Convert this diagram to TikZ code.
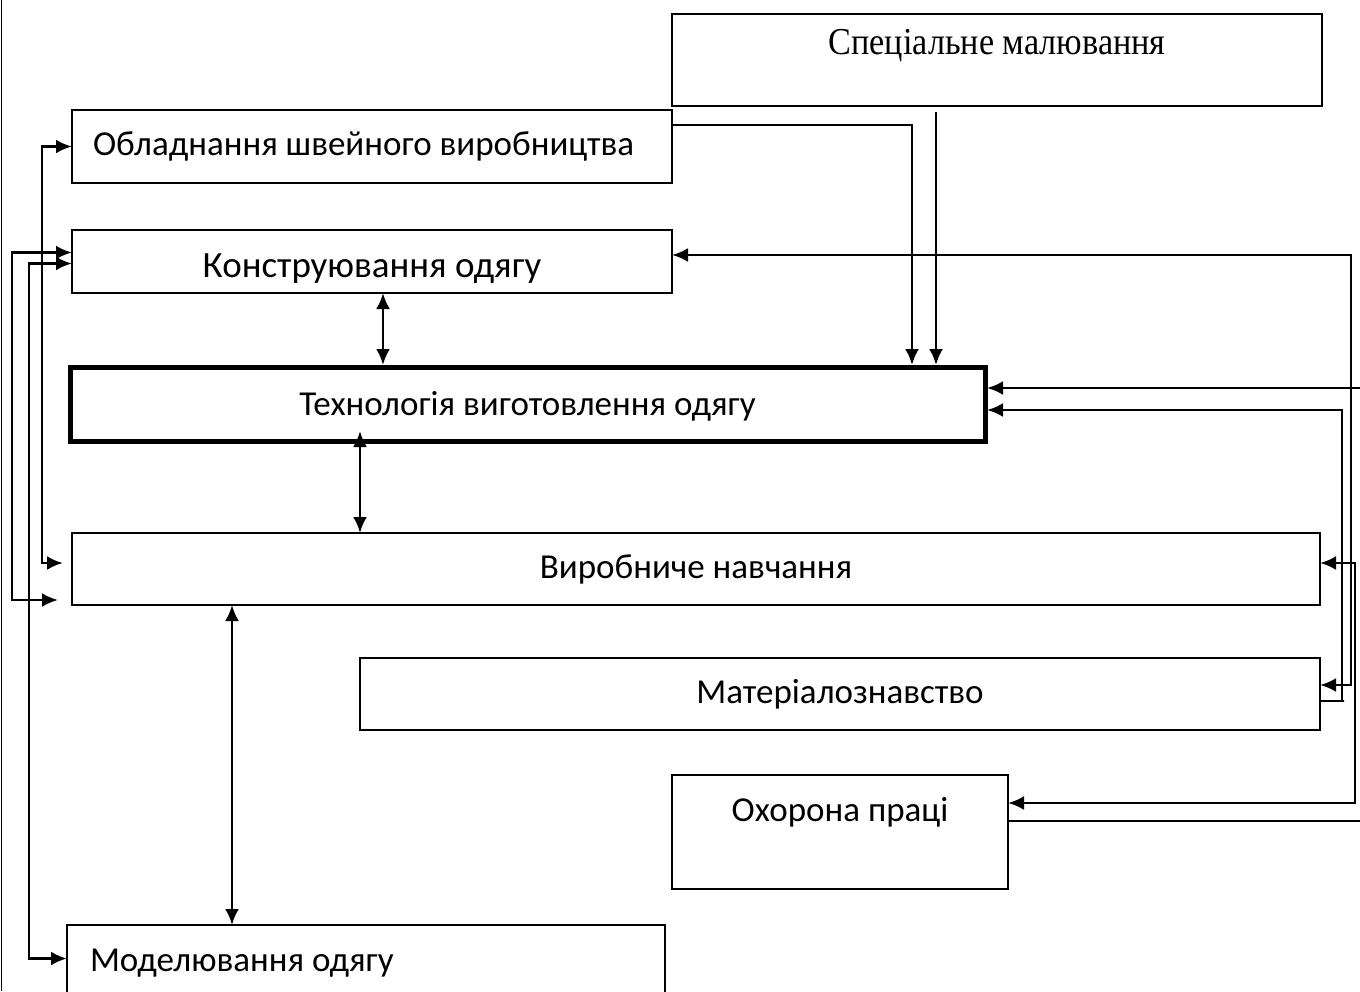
\documentclass[tikz,border=0pt]{standalone}
\usepackage{graphicx}
\usepackage{fontspec}
\setmainfont{Carlito}
\newfontfamily\serifspec{Liberation Serif}
\usetikzlibrary{calc,arrows.meta}

\begin{document}
\begin{tikzpicture}[x=1pt,y=-1pt,
    box/.style={draw, line width=1.5pt, anchor=north west, inner sep=0pt, outer sep=0pt,
        font=\fontsize{35}{40}\selectfont, text height=20pt, text depth=2pt},
    link/.style={line width=2.8pt, {Latex[length=16pt,width=14pt]}-{Latex[length=16pt,width=14pt]}},
    feed/.style={line width=2.8pt, -{Latex[length=16pt,width=14pt]}}]
\useasboundingbox (0,0) rectangle (1360,991);
\draw[line width=1.5pt] (1.5,0) -- (1.5,991);
% boxes
\node[box, minimum width=650pt, minimum height=92pt, text height=25pt, text depth=37pt,
    font=\serifspec\fontsize{38}{42}\selectfont] (spec) at (672,14) {\scalebox{0.9}[1]{Спеціальне малювання}};
\node[box, minimum width=600pt, minimum height=73pt] (obl) at (72,110) {\makebox[558pt][l]{Обладнання швейного виробництва}};
\node[box, minimum width=600pt, minimum height=63pt, text height=32pt, text depth=1pt,
    font=\fontsize{37}{42}\selectfont] (kon) at (72,230) {Конструювання одягу};
\node[box, line width=5pt, minimum width=915pt, minimum height=74pt, text height=24pt] (tech) at (70,367) {Технологія виготовлення одягу};
\node[box, minimum width=1248pt, minimum height=72pt] (vyr) at (72,533) {Виробниче навчання};
\node[box, minimum width=960pt, minimum height=72pt] (mat) at (360,658) {Матеріалознавство};
\node[box, minimum width=336pt, minimum height=114pt, text depth=42pt] (ohor) at (672,775) {Охорона праці};
\node[box, minimum width=598pt, minimum height=75pt] (model) at (67,925) {\makebox[552pt][l]{Моделювання одягу}};
% left side
\draw[link] (obl.west) -- ++(-30,0) |- ($(vyr.west)+(-9,-6)$);
\draw[link] ($(kon.west)+(0,-9)$) -- ++(-60,0) |- ($(vyr.west)+(-14,31)$);
\draw[link] ($(kon.west)+(0,2)$) -- ++(-43,0) |- ($(model.west)+(0,-4)$);
% middle
\draw[link] ($(kon.south)+(11,0)$) -- ($(tech.north)+(-144.5,-2)$);
\draw[link] ($(tech.south)+(-167.5,-10)$) -- ($(vyr.north)+(-336,0)$);
\draw[link] ($(vyr.south)+(-464,0)$) -- ($(model.north)+(-134,0)$);
% top
\draw[feed] ($(obl.north east)+(0,15)$) -| ($(tech.north)+(384.5,-2)$);
\draw[feed] ($(spec.south)+(-61,6)$) -- ($(tech.north)+(408.5,-2)$);
% right side
\draw[link] ($(kon.east)+(0,-6.5)$) -- ++(679,0) |- ($(mat.east)+(0,-9)$);
\draw[link] ($(vyr.east)+(0,-6)$) -- ++(35,0) |- ($(ohor.east)+(0,-29)$);
\draw[feed] ($(mat.east)+(0,7)$) -- ++(24,0) -- ++(-2,0) |- ($(tech.east)+(2,6)$);
\draw[feed] ($(ohor.east)+(0,-11)$) -- ++(358,0) |- ($(tech.east)+(2,-16)$);
\end{tikzpicture}
\end{document}
